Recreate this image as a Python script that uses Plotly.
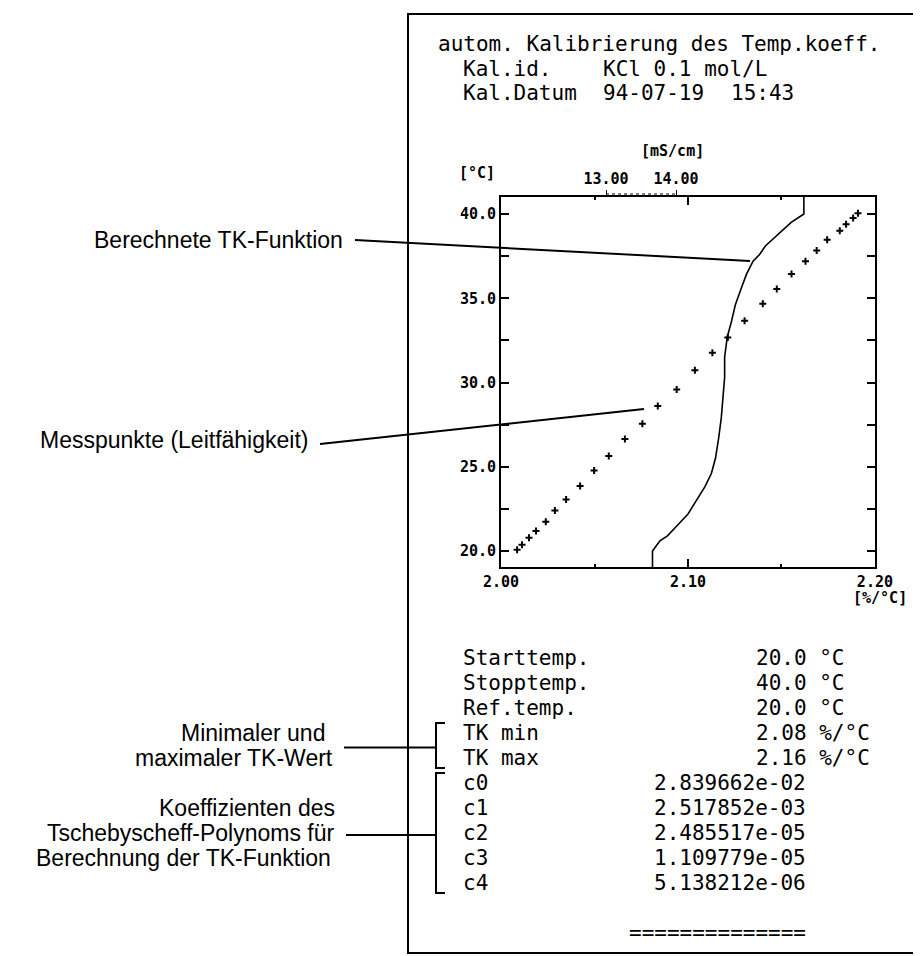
import plotly.graph_objects as go

# ---------------- data ----------------
# computed TK function (temperature in °C, TK in %/°C)
curve_temp = [19.0, 20.0, 20.6, 20.9, 21.6, 22.2, 23.0, 23.8, 24.6, 25.5, 26.7, 27.9, 29.1,
              30.3, 31.5, 32.7, 33.6, 34.6, 35.6, 36.4, 37.2, 37.6, 38.1, 38.8, 39.5, 40.0, 41.1]
curve_tk = [2.081, 2.081, 2.085, 2.089, 2.095, 2.100, 2.1045, 2.109, 2.1125, 2.1147, 2.1164,
            2.1178, 2.1187, 2.1196, 2.1196, 2.121, 2.1232, 2.1253, 2.1285, 2.1312, 2.1348,
            2.1383, 2.1414, 2.1481, 2.1552, 2.162, 2.162]

# measured points (temperature in °C, conductivity in mS/cm)
meas_temp = [20.08, 20.37, 20.79, 21.19, 21.74, 22.41, 23.06, 23.86, 24.78, 25.64, 26.65,
             27.55, 28.61, 29.59, 30.72, 31.77, 32.67, 33.67, 34.68, 35.55, 36.44, 37.19,
             37.84, 38.47, 39.00, 39.40, 39.76, 40.05]
meas_kappa = [11.73, 11.80, 11.90, 12.00, 12.14, 12.27, 12.43, 12.63, 12.83, 13.04, 13.27,
              13.52, 13.74, 14.01, 14.27, 14.52, 14.74, 14.98, 15.24, 15.44, 15.65, 15.85,
              16.01, 16.16, 16.34, 16.43, 16.53, 16.60]

y_ticks = [20, 25, 30, 35, 40]
y_ticktext = ["20.0", "25.0", "30.0", "35.0", "40.0"]
x_ticks = [2.00, 2.10, 2.20]
x_ticktext = ["2.00", "2.10", "2.20"]
x2_ticks = [13, 14]
x2_ticktext = ["13.00", "14.00"]

header_lines = [
    [(0, "autom. Kalibrierung des Temp.koeff.")],
    [(2, "Kal.id."), (13, "KCl 0.1 mol/L")],
    [(2, "Kal.Datum"), (13, "94-07-19"), (23, "15:43")],
]
table_labels = ["Starttemp.", "Stopptemp.", "Ref.temp.", "TK min", "TK max",
                "c0", "c1", "c2", "c3", "c4"]
table_values = ["20.0 °C", "40.0 °C", "20.0 °C", "2.08 %/°C", "2.16 %/°C",
                "2.839662e-02", "2.517852e-03", "2.485517e-05", "1.109779e-05", "5.138212e-06"]
table_value_cols = [25, 25, 25, 25, 25, 17, 17, 17, 17, 17]
footer = "=============="

# ---------------- geometry helpers ----------------
W_FIG, H_FIG = 921, 956
L, R, T, B = 493, 867, 189, 559
PW, PH = R - L, B - T


def px(x):
    return (x - L) / PW


def py(y):
    return (B - y) / PH


MONO = "DejaVu Sans Mono"
SANS = "Liberation Sans, Arial, sans-serif"
CHAR_W = 12.72
COL0 = 429

fig = go.Figure()

fig.add_trace(go.Scatter(
    x=curve_tk, y=curve_temp, mode="lines", xaxis="x", yaxis="y",
    line=dict(color="black", width=1.6), showlegend=False, hoverinfo="skip"))

fig.add_trace(go.Scatter(
    x=meas_kappa, y=meas_temp, mode="markers", xaxis="x2", yaxis="y",
    marker=dict(symbol="cross-thin", size=5, color="black",
                line=dict(color="black", width=2)),
    showlegend=False, hoverinfo="skip"))

tickfont = dict(family=MONO, size=15, color="black", weight="bold")

fig.update_layout(
    width=W_FIG, height=H_FIG,
    margin=dict(l=L, r=W_FIG - R, t=T, b=H_FIG - B, pad=0),
    paper_bgcolor="white", plot_bgcolor="white",
    xaxis=dict(range=[1.99995, 2.20005], tickvals=x_ticks, ticktext=x_ticktext,
               ticks="inside", ticklen=8, tickwidth=1.5, tickcolor="black",
               minor=dict(dtick=0.05, tick0=2.0, ticks="inside", ticklen=3,
                          tickwidth=1.5, tickcolor="black", showgrid=False),
               showline=True, linecolor="black", linewidth=1.8, mirror="allticks",
               showgrid=False, zeroline=False, tickfont=tickfont),
    xaxis2=dict(range=[11.5, 16.843], overlaying="x", side="top", anchor="y",
                tickvals=x2_ticks, ticktext=x2_ticktext, ticks="outside", ticklen=6,
                tickwidth=1.2, tickcolor="black", showline=False, showgrid=False,
                zeroline=False, tickfont=tickfont),
    yaxis=dict(range=[19.05, 41.01], tickvals=y_ticks, ticktext=y_ticktext,
               ticks="inside", ticklen=8, tickwidth=1.5, tickcolor="black",
               minor=dict(dtick=2.5, tick0=20, ticks="inside", ticklen=3,
                          tickwidth=1.5, tickcolor="black", showgrid=False),
               showline=True, linecolor="black", linewidth=1.8, mirror="allticks",
               showgrid=False, zeroline=False, tickfont=tickfont),
)

shapes = []
# outer frame of the printout
shapes.append(dict(type="rect", xref="paper", yref="paper",
                   x0=px(400), x1=px(906), y0=py(945), y1=py(6),
                   line=dict(color="black", width=2)))
# dotted scale bar between 13.00 and 14.00 mS/cm
shapes.append(dict(type="line", xref="x2", yref="paper", x0=13, x1=14,
                   y0=py(186), y1=py(186), line=dict(color="black", width=1.2, dash="dot")))

ROW0, STEP = 650, 25.0
row_y = [ROW0 + i * STEP for i in range(12)]

# callout lines
callouts = [(347, 232, 742, 253), (312, 436, 636, 401),
            (336, (row_y[3] + row_y[4]) / 2 + 2, 428, (row_y[3] + row_y[4]) / 2 + 2),
            (338, row_y[7] + 2, 428, row_y[7] + 2)]
for (xa, ya, xb, yb) in callouts:
    shapes.append(dict(type="line", xref="paper", yref="paper",
                       x0=px(xa), y0=py(ya), x1=px(xb), y1=py(yb),
                       line=dict(color="black", width=2)))
# brackets
for (ya, yb) in [(row_y[3] - 10, row_y[4] + 10), (row_y[5] - 10, row_y[9] + 10)]:
    shapes.append(dict(type="path", xref="paper", yref="paper",
                       path=f"M {px(437)} {py(ya)} L {px(428)} {py(ya)} L {px(428)} {py(yb)} L {px(437)} {py(yb)}",
                       line=dict(color="black", width=2)))
fig.update_layout(shapes=shapes)

ann = []


def add_text(text, x, y, font, xanchor="left"):
    ann.append(dict(text=text, x=px(x), y=py(y), xref="paper", yref="paper",
                    xanchor=xanchor, yanchor="middle", showarrow=False, font=font,
                    borderpad=0))


mono_font = dict(family=MONO, size=21, color="black")
for i, line in enumerate(header_lines):
    for col, txt in line:
        add_text(txt, COL0 + col * CHAR_W, 36 + i * 24.6, mono_font)

for i, (lab, val, vc) in enumerate(zip(table_labels, table_values, table_value_cols)):
    y = row_y[i]
    add_text(lab, COL0 + 2 * CHAR_W, y, mono_font)
    add_text(val, COL0 + vc * CHAR_W, y, mono_font)
add_text(footer, COL0 + 15 * CHAR_W, row_y[11], mono_font)

unit_font = dict(family=MONO, size=15, color="black", weight="bold")
add_text("[°C]", 488, 165, unit_font, xanchor="right")
add_text("[mS/cm]", 664, 143, unit_font, xanchor="center")
add_text("[%/°C]", 900, 590, unit_font, xanchor="right")

side_font = dict(family=SANS, size=23, color="black")
add_text("Berechnete TK-Funktion", 336, 232, side_font, xanchor="right")
add_text("Messpunkte (Leitfähigkeit)", 301, 432, side_font, xanchor="right")
add_text("Minimaler und", 318, row_y[3], side_font, xanchor="right")
add_text("maximaler TK-Wert", 326, row_y[4], side_font, xanchor="right")
add_text("Koeffizienten des", 328, row_y[6], side_font, xanchor="right")
add_text("Tschebyscheff-Polynoms für", 328, row_y[7], side_font, xanchor="right")
add_text("Berechnung der TK-Funktion", 324, row_y[8], side_font, xanchor="right")

fig.update_layout(annotations=ann)

fig.write_html("out.html")
